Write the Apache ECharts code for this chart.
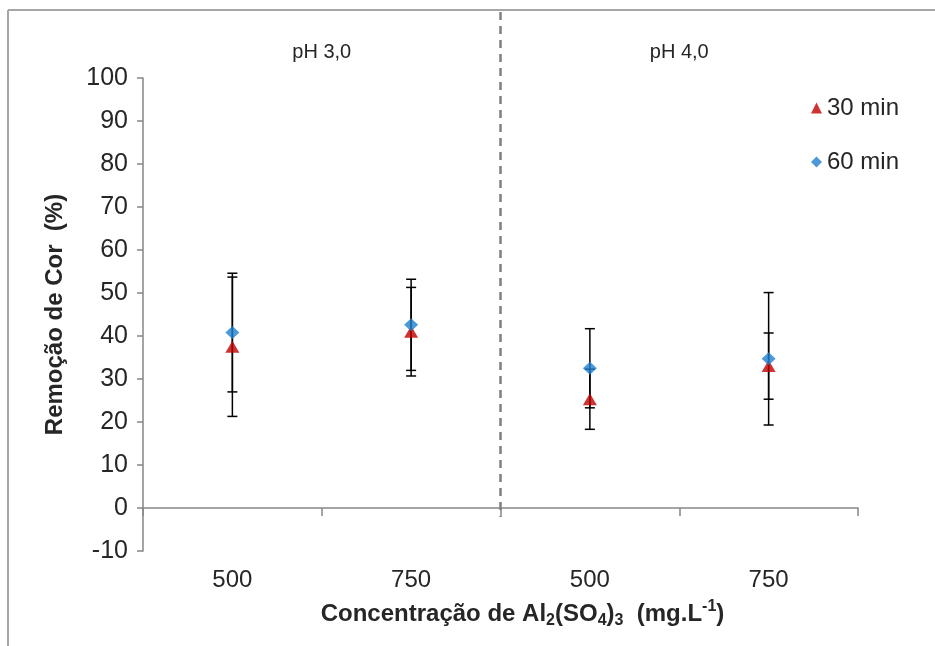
<!DOCTYPE html>
<html>
<head>
<meta charset="utf-8">
<script src="https://cdn.jsdelivr.net/npm/echarts@6/dist/echarts.min.js"></script>
<style>
  html, body { margin: 0; padding: 0; background: #fff; }
  #chart { width: 935px; height: 646px; }
</style>
</head>
<body>
<div id="chart"></div>
<script>
// Al2(SO4)3 dose per group (two pH groups, two doses each)
const categories = ['500', '750', '500', '750'];
const groupNames = ['pH 3,0', 'pH 4,0'];

// Colour removal (%) and its standard deviation
const mean30 = [37.5, 41.0, 25.3, 33.0];
const err30  = [16.2, 10.3, 7.0, 7.7];
const mean60 = [40.8, 42.6, 32.5, 34.7];
const err60  = [13.8, 10.6, 9.2, 15.4];

const yTicks = { min: -10, max: 100, interval: 10 };

const FONT = 'Liberation Sans, Arial, sans-serif';
const AXIS_GREY = '#868686';
const TEXT = '#262626';

function points(means) {
  return means.map((v, i) => [i, v]);
}
function bars(means, errs) {
  return means.map((v, i) => [i, v - errs[i], v + errs[i]]);
}

function renderErrorBar(params, api) {
  const x = api.value(0);
  const lo = api.coord([x, api.value(1)]);
  const hi = api.coord([x, api.value(2)]);
  const half = 5;
  const style = { stroke: '#000', lineWidth: 1.5 };
  return {
    type: 'group',
    children: [
      { type: 'line', shape: { x1: lo[0], y1: lo[1], x2: hi[0], y2: hi[1] }, style },
      { type: 'line', shape: { x1: lo[0] - half, y1: lo[1], x2: lo[0] + half, y2: lo[1] }, style },
      { type: 'line', shape: { x1: hi[0] - half, y1: hi[1], x2: hi[0] + half, y2: hi[1] }, style }
    ]
  };
}

const chart = echarts.init(document.getElementById('chart'), null, { renderer: 'canvas' });

const option = {
  backgroundColor: '#fff',
  animation: false,
  textStyle: { fontFamily: FONT },
  grid: { left: 143, right: 77, top: 78, bottom: 95 },
  legend: {
    orient: 'vertical',
    left: 811,
    top: 96,
    padding: 0,
    itemWidth: 11,
    itemHeight: 11,
    itemGap: 30,
    data: ['30 min', '60 min'],
    textStyle: { fontSize: 24, color: TEXT, fontFamily: FONT }
  },
  xAxis: [
    {
      type: 'category',
      data: categories,
      position: 'bottom',
      axisLine: { show: false, onZero: false },
      axisTick: { show: false },
      axisLabel: { fontSize: 24, color: TEXT, margin: 17, fontFamily: FONT },
      name: '{b|Concentração de Al}{sub|2}{b|(SO}{sub|4}{b|)}{sub|3}{b|  (mg.L}{sup|-1}{b|)}',
      nameLocation: 'middle',
      nameGap: 48,
      nameTextStyle: {
        padding: [0, 0, 0, 44],
        rich: {
          b: { fontSize: 24, fontWeight: 'bold', color: TEXT, fontFamily: FONT, lineHeight: 30 },
          sub: { fontSize: 16, fontWeight: 'bold', color: TEXT, fontFamily: FONT, lineHeight: 16, verticalAlign: 'bottom' },
          sup: { fontSize: 16, fontWeight: 'bold', color: TEXT, fontFamily: FONT, lineHeight: 16, verticalAlign: 'top' }
        }
      }
    },
    {
      type: 'category',
      data: categories,
      position: 'bottom',
      axisLine: { show: true, onZero: true, lineStyle: { color: AXIS_GREY, width: 1.5 } },
      axisTick: { show: true, length: 8, lineStyle: { color: AXIS_GREY, width: 1.5 } },
      axisLabel: { show: false }
    }
  ],
  yAxis: {
    type: 'value',
    min: yTicks.min,
    max: yTicks.max,
    interval: yTicks.interval,
    axisLine: { show: true, lineStyle: { color: AXIS_GREY, width: 1.5 } },
    axisTick: { show: true, length: 6, lineStyle: { color: AXIS_GREY, width: 1.5 } },
    splitLine: { show: false },
    axisLabel: { fontSize: 25, color: TEXT, margin: 15, fontFamily: FONT },
    name: 'Remoção de Cor  (%)',
    nameLocation: 'middle',
    nameGap: 76,
    nameTextStyle: { fontSize: 24, fontWeight: 'bold', color: TEXT, fontFamily: FONT }
  },
  series: [
    {
      name: 'err30',
      type: 'custom',
      renderItem: renderErrorBar,
      data: bars(mean30, err30),
      encode: { x: 0, y: [1, 2] },
      z: 1
    },
    {
      name: 'err60',
      type: 'custom',
      renderItem: renderErrorBar,
      data: bars(mean60, err60),
      encode: { x: 0, y: [1, 2] },
      z: 1
    },
    {
      name: '30 min',
      type: 'scatter',
      symbol: 'triangle',
      symbolSize: [14, 12],
      itemStyle: { color: '#C00000' },
      data: points(mean30),
      z: 3
    },
    {
      name: '60 min',
      type: 'scatter',
      symbol: 'diamond',
      symbolSize: [14, 13],
      itemStyle: { color: '#1F7FCF' },
      data: points(mean60),
      z: 4
    }
  ]
};

chart.setOption(option);

// Group separator and group titles, placed from the category axis positions
const xAt = i => chart.convertToPixel({ xAxisIndex: 0 }, i);
const zeroY = chart.convertToPixel({ yAxisIndex: 0 }, 0);
const step = xAt(1) - xAt(0);
const sepX = (xAt(1) + xAt(2)) / 2;
const groupCentres = [xAt(0) + step / 2, xAt(2) + step / 2];

chart.setOption({
  graphic: [
    // outer frame
    { type: 'line', shape: { x1: 8, y1: 10, x2: 935, y2: 10 }, style: { stroke: '#a6a6a6', lineWidth: 2 } },
    { type: 'line', shape: { x1: 8, y1: 10, x2: 8, y2: 646 }, style: { stroke: '#a6a6a6', lineWidth: 2 } },
    // dashed separator between the pH groups
    {
      type: 'line',
      shape: { x1: sepX, y1: 12, x2: sepX, y2: zeroY + 9 },
      style: { stroke: '#808080', lineWidth: 2.5, lineDash: [8, 6] },
      z: 5
    }
  ].concat(groupNames.map((g, k) => ({
    type: 'text',
    x: groupCentres[k],
    y: 52,
    style: {
      text: g,
      fill: TEXT,
      font: '20px ' + FONT,
      textAlign: 'center',
      textVerticalAlign: 'middle'
    }
  })))
});
</script>
</body>
</html>
